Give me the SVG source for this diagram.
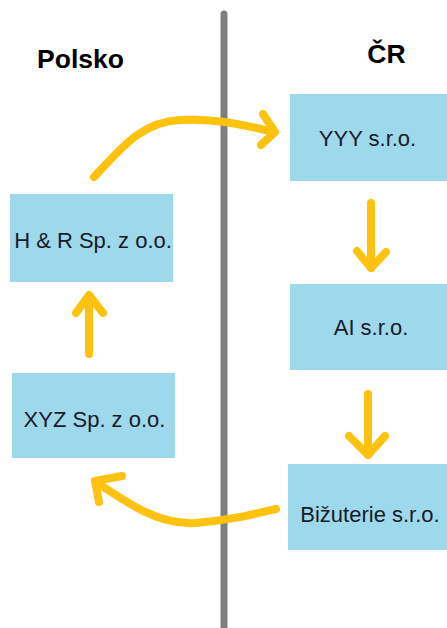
<svg xmlns="http://www.w3.org/2000/svg" width="447" height="628" viewBox="0 0 447 628">
<style>
.box{fill:#9DD9EA;}
.lbl{font-family:"Liberation Sans",Arial,sans-serif;font-size:22px;fill:#1a1a2a;text-anchor:middle;}
.hdr{font-family:"Liberation Sans",Arial,sans-serif;font-size:26.5px;font-weight:bold;fill:#000;text-anchor:middle;}
.arr{fill:none;stroke:#FFC20E;stroke-width:8;stroke-linecap:round;stroke-linejoin:round;}
</style>
<rect width="447" height="628" fill="#fff"/>
<line x1="224" y1="14" x2="224" y2="640" stroke="#7f7f7f" stroke-width="7" stroke-linecap="round"/>
<text class="hdr" x="80.5" y="68">Polsko</text>
<text class="hdr" x="386.5" y="63">ČR</text>
<g id="yyy"><rect class="box" x="290" y="94" width="157" height="87"/><text class="lbl" x="367.5" y="146">YYY s.r.o.</text></g>
<g id="hr"><rect class="box" x="10" y="194" width="163" height="88"/><text class="lbl" x="93" y="248">H &amp; R Sp. z o.o.</text></g>
<g id="ai"><rect class="box" x="290" y="284" width="157" height="86"/><text class="lbl" x="371" y="335">AI s.r.o.</text></g>
<g id="xyz"><rect class="box" x="12" y="373" width="163" height="85"/><text class="lbl" x="94.5" y="427">XYZ Sp. z o.o.</text></g>
<g id="biz"><rect class="box" x="288" y="464" width="159" height="86"/><text class="lbl" x="370" y="522">Bižuterie s.r.o.</text></g>
<g id="connectors">
<path class="arr" d="M94 177 C120 150 140 122 180 120 C215 118 240 124 274 132"/>
<path class="arr" d="M263 114 L275 132 L261 145"/>
<path class="arr" d="M89 354 L89 296"/>
<path class="arr" d="M76 313 L89 295 L103 313"/>
<path class="arr" d="M371 203 L371 268"/>
<path class="arr" d="M357 251 L371 268 L386 252"/>
<path class="arr" d="M368 394 L368 455"/>
<path class="arr" d="M349 436 L368 455 L385 436"/>
<path class="arr" d="M276 509 C250 515 230 520 195 523 C160 525 130 505 96 482"/>
<path class="arr" d="M99 502 L95 481 L122 476"/>
</g>
</svg>
